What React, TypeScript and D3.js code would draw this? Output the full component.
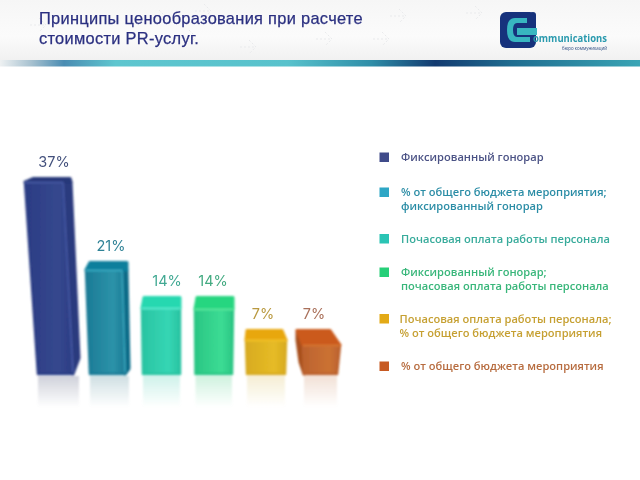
import React from 'react';
import * as d3 from 'd3';

// values
const categories = ['fixed', 'budgetFixed', 'hourly', 'fixedHourly', 'hourlyBudget', 'budget'];
const values = [37, 21, 14, 14, 7, 7];
const legendLines = [
  ['Фиксированный гонорар'],
  ['% от общего бюджета мероприятия;', 'фиксированный гонорар'],
  ['Почасовая оплата работы персонала'],
  ['Фиксированный гонорар;', 'почасовая оплата работы персонала'],
  ['Почасовая оплата работы персонала;', '% от общего бюджета мероприятия'],
  ['% от общего бюджета мероприятия'],
];
const titleLines = ['Принципы ценообразования при расчете', 'стоимости PR-услуг.'];

// look of the bars
const frontDark = ['#2b3c84', '#1b7b96', '#2ac4a2', '#2ac684', '#d8ab20', '#bc622e'];
const frontLight = ['#35488e', '#2c93a9', '#35d6b4', '#3cdc94', '#e6bb26', '#cb7234'];
const capFill = ['#263779', '#0f7f9c', '#28d8b0', '#28d680', '#e8a70f', '#cb5a1a'];
const sideFill = ['#2a3a7e', '#0f6c88', '#2ac4a2', '#2ac684', '#d8ab20', '#a8501e'];
const edgeFill = ['#4d62ad', '#3fb2c8', '#62eed6', '#62eca4', '#f2c92e', '#d87c38'];
const labelFill = ['#42507c', '#2f8296', '#3fa892', '#42aa80', '#b9993f', '#a9705a'];
const legendFill = ['#4b5285', '#2c8da6', '#37ab9b', '#38b67a', '#c6a032', '#b76c3f'];
const swatchFill = ['#414b8a', '#2fa6c5', '#2cc4b4', '#28cf78', '#e3aa12', '#c75a20'];
const reflectFill = ['#8f93a8', '#8fb4bc', '#8fe0cf', '#8fe0b4', '#e8d79a', '#e0b8a0'];

// where the bars sit (the picture is a perspective render, so the spacing is uneven)
const barCenters = [48, 106, 161, 214, 266, 314];
const labelCenters = [54, 111, 167, 213, 263, 314];
const yValues = [7, 14, 21, 37];
const yPixels = [329, 296, 261, 177];
const baseY = 375;

// per bar corner offsets from its centre: [left, edge, right]
const capDepth = [5, 9, 12, 13, 11, 16];
const rearOffsets = [[-15, 22], [-16, 21], [-17, 19], [-17, 19], [-19, 16], [-17, 16]];
const frontOffsets = [[-23, 15, 23], [-20, 16, 21], [-19, 19, 19], [-19, 19, 19], [-20, 20, 20], [-11, 26, 26]];
const baseOffsets = [[-10, 25, 31], [-16, 19, 23], [-18, 19, 19], [-18.5, 18, 18], [-19, 19, 19], [-10, 23, 23]];
const leftSide = [null, null, null, null, null, [-17, -14]];

const legendY = [157, 192, 238.5, 272, 318.5, 366];
const legendTextX = [401, 401, 401, 401, 399.5, 401];

const arrowMarks = [[195, 4], [340, 12], [390, 9], [466, 6], [503, 22], [316, 32], [373, 32], [180, 30], [30, 18], [240, 40], [150, 10]];

const x = d3.scaleOrdinal<string, number>().domain(categories).range(barCenters);
const xLabel = d3.scaleOrdinal<string, number>().domain(categories).range(labelCenters);
const y = d3.scaleLinear().domain(yValues).range(yPixels);
const poly = d3.line().curve(d3.curveLinearClosed);

const App = () => {
  return (
    <svg width={640} height={480} style={{ position: 'absolute', left: 0, top: 0, background: '#fff' }}>
      <defs>
        <linearGradient id="head" x1="0" y1="0" x2="0" y2="1">
          <stop offset="0" stopColor="#f6f6f6" />
          <stop offset="0.6" stopColor="#fbfbfb" />
          <stop offset="1" stopColor="#f1f1f1" />
        </linearGradient>
        <linearGradient id="band" x1="0" y1="0" x2="1" y2="0">
          <stop offset="0" stopColor="#eef1f2" />
          <stop offset="0.05" stopColor="#a5c0cf" />
          <stop offset="0.1" stopColor="#4a8cb2" />
          <stop offset="0.18" stopColor="#5ec6cf" />
          <stop offset="0.45" stopColor="#58c2cc" />
          <stop offset="0.58" stopColor="#2f8ea8" />
          <stop offset="0.68" stopColor="#123a70" />
          <stop offset="0.8" stopColor="#1f6d90" />
          <stop offset="1" stopColor="#3aa5b5" />
        </linearGradient>
        <filter id="soft" x="-10%" y="-10%" width="120%" height="120%">
          <feGaussianBlur stdDeviation="0.8" />
        </filter>
        <filter id="softText" x="-5%" y="-20%" width="110%" height="140%">
          <feGaussianBlur stdDeviation="0.3" />
        </filter>
        {categories.map((c, i) => (
          <React.Fragment key={c}>
            <linearGradient id={`front${i}`} x1="0" y1="0" x2="1" y2="0">
              <stop offset="0" stopColor={frontDark[i]} />
              <stop offset="0.7" stopColor={frontLight[i]} />
              <stop offset="1" stopColor={frontDark[i]} />
            </linearGradient>
            <linearGradient id={`reflect${i}`} x1="0" y1="0" x2="0" y2="1">
              <stop offset="0" stopColor={reflectFill[i]} stopOpacity={0.42} />
              <stop offset="1" stopColor={reflectFill[i]} stopOpacity={0} />
            </linearGradient>
          </React.Fragment>
        ))}
      </defs>

      <rect x={0} y={0} width={640} height={60} fill="url(#head)" />
      <g fill="none" stroke="#e9eaec" strokeWidth={1} strokeDasharray="2 2">
        {arrowMarks.map(([ax, ay], i) => (
          <path key={i} d={d3.line()([[ax, ay + 7], [ax + 14, ay + 7]]) + ' ' + d3.line()([[ax + 9, ay], [ax + 16, ay + 7], [ax + 9, ay + 14]])} />
        ))}
      </g>
      <rect x={0} y={60} width={640} height={6.5} fill="url(#band)" />

      <g fontFamily="'Liberation Sans', Arial, sans-serif" fontSize={16.4} letterSpacing={0.3} fill="#2b3080" filter="url(#softText)" stroke="#2b3080" strokeWidth={0.25}>
        {titleLines.map((t, i) => (
          <text key={t} x={39} y={24 + i * 20}>{t}</text>
        ))}
      </g>

      <g filter="url(#softText)">
        <rect x={500} y={12} width={36} height={36} rx={6} fill="#16337c" />
        <path d="M527 18 H515 Q507 18 507 30 Q507 42 515 42 H530 V37 H517 Q513 37 513 30 Q513 23 517 23 H527 Z" fill="#39b6c0" />
        <rect x={517} y={28} width={20} height={7} fill="#39b6c0" />
        <rect x={530} y={12} width={6} height={15} rx={3} fill="#16337c" />
        <text x={533} y={42} fontFamily="'Open Sans', sans-serif" fontWeight={700} fontSize={10} fill="#2a9aae" textLength={74} lengthAdjust="spacingAndGlyphs">ommunications</text>
        <text x={607} y={49.8} textAnchor="end" fontFamily="'Open Sans', sans-serif" fontSize={4.4} fill="#2b4a80">бюро коммуникаций</text>
      </g>

      {categories.map((c, i) => {
        const cx = x(c);
        const top = y(values[i]);
        const capY = top + capDepth[i];
        const [rl, rr] = rearOffsets[i];
        const [fl, fe, fr] = frontOffsets[i];
        const [bl, be, br] = baseOffsets[i];
        const side = leftSide[i];
        const sideRise = br > be ? 15 * (be === 25 ? 1 : 0.3) : 0;
        return (
          <g key={c}>
            <rect x={cx + bl} y={baseY + 1} width={br - bl} height={31} fill={`url(#reflect${i})`} filter="url(#soft)" />
            <g filter="url(#soft)" strokeLinejoin="round" strokeWidth={3}>
              {side && (
                <path d={poly([[cx + rl, top + 2], [cx + fl, capY], [cx + bl, baseY - 1], [cx + side[1], baseY - 13], [cx + side[0], capY - 5]]) ?? ''} fill={sideFill[i]} stroke={sideFill[i]} />
              )}
              {fr > fe && (
                <path d={poly([[cx + fe, capY], [cx + fr, capY], [cx + br, baseY - 2 - sideRise], [cx + be, baseY - 1]]) ?? ''} fill={sideFill[i]} stroke={sideFill[i]} />
              )}
              <path d={poly([[cx + fl, capY], [cx + fe, capY], [cx + be, baseY - 1], [cx + bl, baseY - 1]]) ?? ''} fill={`url(#front${i})`} stroke={frontDark[i]} strokeWidth={2.5} />
              <path d={poly([[cx + rl, top + 1.5], [cx + rr, top + 1.5], [cx + fr, capY], [cx + fl, capY]]) ?? ''} fill={capFill[i]} stroke={capFill[i]} strokeWidth={3} />
              <path d={d3.line()([[cx + fl, capY + 0.5], [cx + fe, capY + 0.5]]) ?? ''} fill="none" stroke={edgeFill[i]} strokeWidth={1.4} />
              <path d={d3.line()([[cx + fe, capY + 0.5], [cx + be, baseY - 3]]) ?? ''} fill="none" stroke={edgeFill[i]} strokeWidth={fr > fe ? 1.2 : 0} />
            </g>
          </g>
        );
      })}

      <g fontFamily="Inter, sans-serif" fontSize={14.5} textAnchor="middle" filter="url(#softText)">
        {categories.map((c, i) => (
          <text key={c} x={xLabel(c)} y={y(values[i]) - 10} fill={labelFill[i]}>{values[i]}%</text>
        ))}
      </g>

      <g fontFamily="'Open Sans', sans-serif" fontWeight={600} fontSize={11.1} filter="url(#softText)">
        {legendLines.map((lines, i) => (
          <g key={i}>
            <rect x={379.5} y={legendY[i] - 4.5} width={9.5} height={9.5} fill={swatchFill[i]} />
            {lines.map((l, j) => (
              <text key={j} x={legendTextX[i]} y={legendY[i] + 4 + j * 14.4} fill={legendFill[i]}>{l}</text>
            ))}
          </g>
        ))}
      </g>
    </svg>
  );
};

export default App;
